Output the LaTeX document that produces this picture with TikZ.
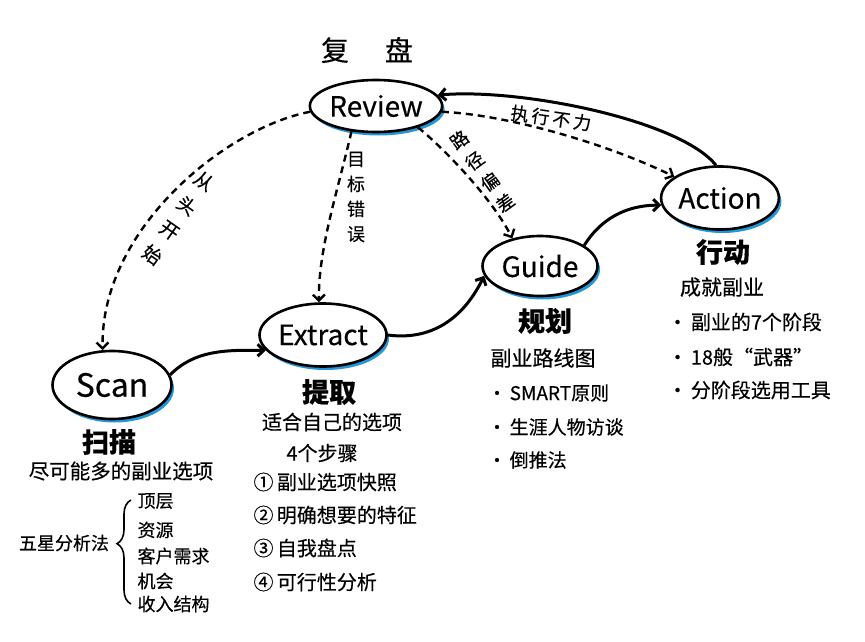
\documentclass[tikz,border=0pt]{standalone}
\usepackage{fontspec}
\setmainfont{Noto Sans CJK SC}[FakeBold=0.35]
\usetikzlibrary{arrows.meta,shapes.geometric,shadows,decorations.pathreplacing}
\definecolor{skyb}{RGB}{35,150,215}
\begin{document}
\begin{tikzpicture}[x=1pt,y=-1pt,
  stage/.style={ellipse, draw, line width=2.6pt, fill=white, inner sep=0pt,
    drop shadow={shadow xshift=2.5pt, shadow yshift=-3.5pt, fill=skyb, opacity=1},
    font=\fontsize{28}{32}\selectfont},
  tip/.style={-{Straight Barb[length=6pt,width=12pt]}},
  flow/.style={line width=3pt, tip},
  hint/.style={line width=2.4pt, dash pattern=on 7pt off 5pt, tip},
  head/.style={font=\fontsize{27}{30}\selectfont\bfseries},
  body/.style={font=\fontsize{20}{24}\selectfont},
  item/.style={font=\fontsize{20}{24}\selectfont, anchor=west},
  small/.style={font=\fontsize{18}{22}\selectfont},
  vlabel/.style={align=center, inner sep=0pt},
]
\useasboundingbox (0,0) rectangle (865,642);

% title
\node[font=\fontsize{28}{32}\selectfont] (title) at (367,50) {复\hspace{36pt}盘};

% the five stages
\node[stage, minimum width=132pt, minimum height=52pt] (review)  at (376,106) {Review};
\node[stage, minimum width=119pt, minimum height=68pt, font=\fontsize{32}{36}\selectfont] (scan) at (112,385) {Scan};
\node[stage, minimum width=127pt, minimum height=63pt] (extract) at (323,335) {Extract};
\node[stage, minimum width=115pt, minimum height=60pt] (guide)   at (540,266) {Guide};
\node[stage, minimum width=114pt, minimum height=63pt] (action)  at (720,198) {Action};

% main cycle
\draw[flow] (scan.10) .. controls (195,350) and (225,350) .. (extract.195);
\draw[flow] (extract.0) .. controls (425,340) and (460,325) .. (guide.190);
\draw[flow] (guide.25) .. controls (600,220) and (625,205) .. (action.187);
\draw[flow] (action.97) .. controls (680,120) and (520,88) .. (review.10);

% feedback from the review
\draw[hint] (review.185) .. controls (225,128) and (100,230) .. (scan.105);
\draw[hint] (review.226) .. controls (338,190) and (318,250) .. (extract.97);
\draw[hint] (review.-27) .. controls (440,145) and (490,195) .. (guide.135);
\draw[hint] (review.-5) .. controls (510,115) and (610,145) .. (action.155);

% feedback labels
\node[vlabel, rotate=-35, font=\fontsize{19}{30}\selectfont] (lblScan) at (178,218) {从\\头\\开\\始};
\node[vlabel, font=\fontsize{18}{25}\selectfont] (lblExtract) at (356,197) {目\\标\\错\\误};
\node[vlabel, rotate=36, font=\fontsize{18}{26}\selectfont] (lblGuide) at (482,171) {路\\径\\偏\\差};
\node[vlabel, rotate=-8, font=\fontsize{18}{22}\selectfont] (lblAction) at (551,118) {执\,行\,不\,力};

% Scan
\node[head] (scanT) at (109,442) {扫描};
\node[font=\fontsize{20.5}{24}\selectfont] (scanD) at (121,471) {尽可能多的副业选项};
\node[small] (star) at (64,543) {五星分析法};
\node[small, anchor=west] (s1) at (134,501) {顶层};
\node[small, anchor=west] (s2) at (134,530) {资源};
\node[small, anchor=west] (s3) at (134,556) {客户需求};
\node[small, anchor=west] (s4) at (134,581) {机会};
\node[small, anchor=west] (s5) at (134,604) {收入结构};
\coordinate (braceTop) at (131,500);
\coordinate (braceBot) at (131,604);
\draw[decorate, decoration={brace, amplitude=14pt, aspect=0.58}, line width=1.6pt]
  (braceBot) -- (braceTop);

% Extract
\node[head] (extractT) at (329,392) {提取};
\node[body] (extractD) at (332,422) {适合自己的选项};
\node[body] (extractS) at (322,453) {4个步骤};
\node[item] (e1) at (250,482) {①\,副业选项快照};
\node[item] (e2) at (250,515) {②\,明确想要的特征};
\node[item] (e3) at (250,548) {③\,自我盘点};
\node[item] (e4) at (250,582) {④\,可行性分析};

% Guide
\node[head] (guideT) at (545,321) {规划};
\node[font=\fontsize{21}{24}\selectfont] (guideD) at (543,358) {副业路线图};
\node[item, font=\fontsize{19}{24}\selectfont] (g1) at (484,393) {·\,SMART原则};
\node[item, font=\fontsize{19}{24}\selectfont] (g2) at (484,427) {·\,生涯人物访谈};
\node[item, font=\fontsize{19}{24}\selectfont] (g3) at (484,460) {·\,倒推法};

% Action
\node[head] (actionT) at (723,252) {行动};
\node[font=\fontsize{21}{24}\selectfont] (actionD) at (722,287) {成就副业};
\node[item] (a1) at (664,322) {·\,副业的7个阶段};
\node[item] (a2) at (664,357) {·\,18般“武器”};
\node[item] (a3) at (664,390) {·\,分阶段选用工具};
\end{tikzpicture}
\end{document}
